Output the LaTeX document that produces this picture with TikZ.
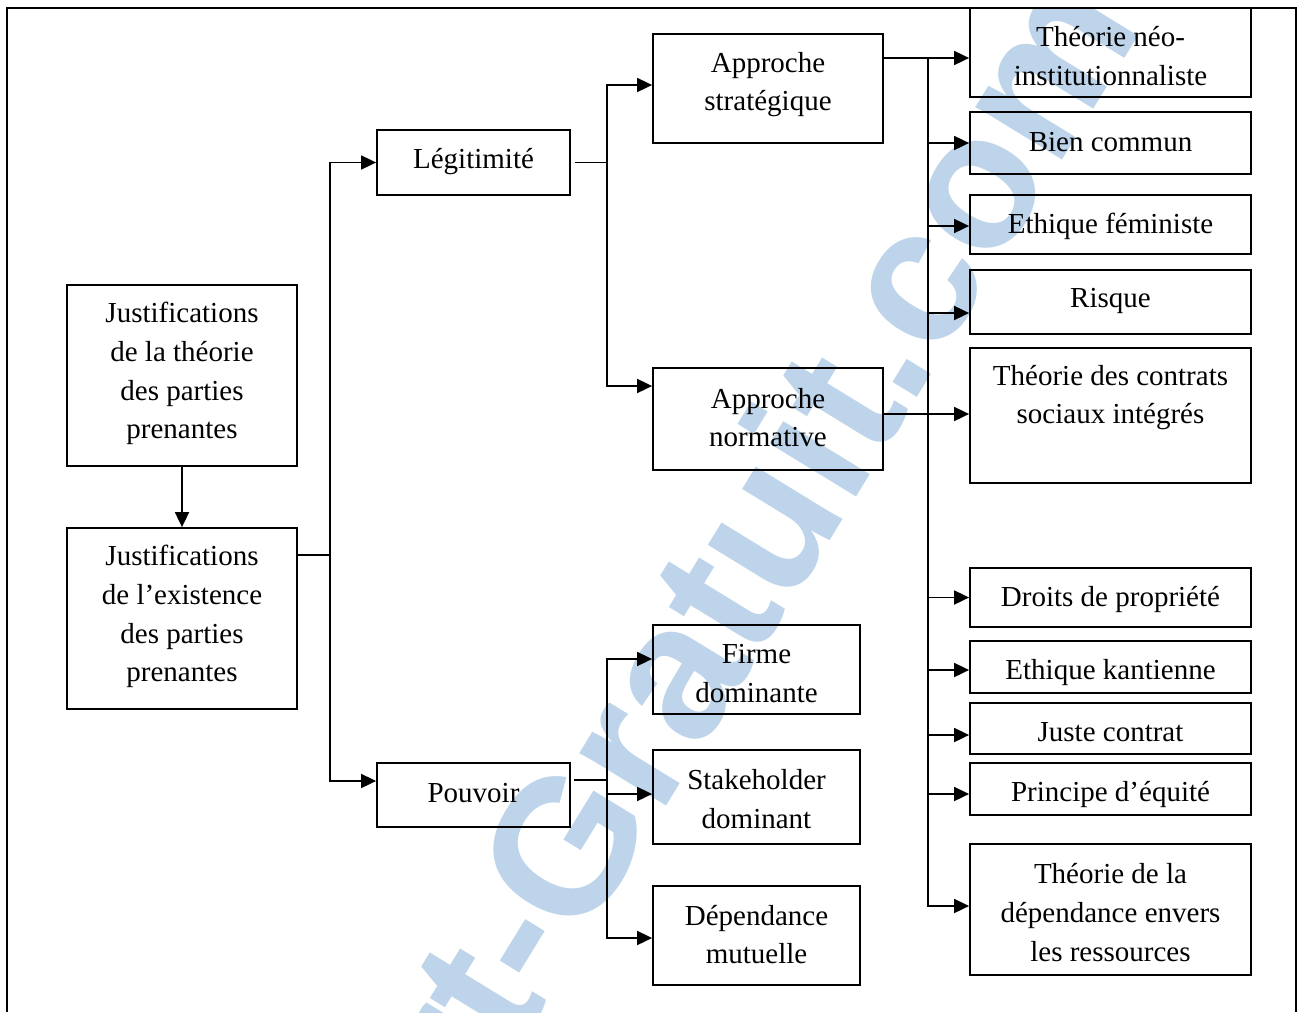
\documentclass[tikz,border=0pt]{standalone}
\usepackage{fontspec}
\setmainfont{Liberation Serif}
\newfontfamily\wmfont{Liberation Sans}
\usetikzlibrary{arrows.meta}
\definecolor{wmblue}{RGB}{189,212,234}
\begin{document}
\begin{tikzpicture}[x=1pt,y=-1pt,
  box/.style={draw, line width=1.8pt, inner sep=0pt},
  txt/.style={align=center, inner sep=0pt, font=\fontsize{29}{38.8}\selectfont},
  ln/.style={line width=1.8pt},
  arr/.style={line width=1.8pt, -{Triangle[length=15pt,width=14pt]}},
  wm/.style={text=wmblue, inner sep=0pt, font=\wmfont\bfseries\fontsize{192}{192}\selectfont}]
\useasboundingbox (0,0) rectangle (1297,1012);
% watermark
\begin{scope}
\clip (7,8) rectangle (1296,1012);
\node[wm, anchor=base east, rotate=58.5] (wmark) at (1145,26) {Rapport-Gratuit.com};
\end{scope}
% frame
\draw[line width=2pt] (7,1012) -- (7,8) -- (1296,8) -- (1296,1012);
% boxes
\node[box, minimum width=230pt, minimum height=181pt] (j1) at (182,375.5) {};
\node[box, minimum width=230pt, minimum height=181pt] (j2) at (182,618.5) {};
\node[box, minimum width=193pt, minimum height=65pt] (leg) at (473.5,162.5) {};
\node[box, minimum width=193pt, minimum height=64pt] (pou) at (473.5,795) {};
\node[box, minimum width=230pt, minimum height=109pt] (as) at (768,88.5) {};
\node[box, minimum width=230pt, minimum height=102pt] (an) at (768,419) {};
\node[box, minimum width=207pt, minimum height=89pt] (fd) at (756.5,669.5) {};
\node[box, minimum width=207pt, minimum height=94pt] (sd) at (756.5,797) {};
\node[box, minimum width=207pt, minimum height=99pt] (dm) at (756.5,935.5) {};
\node[box, minimum width=281pt, minimum height=89pt] (neo) at (1110.5,52.5) {};
\node[box, minimum width=281pt, minimum height=62pt] (bc) at (1110.5,143) {};
\node[box, minimum width=281pt, minimum height=59pt] (ef) at (1110.5,224.5) {};
\node[box, minimum width=281pt, minimum height=64pt] (ri) at (1110.5,302) {};
\node[box, minimum width=281pt, minimum height=135pt] (ctr) at (1110.5,415.5) {};
\node[box, minimum width=281pt, minimum height=59pt] (dp) at (1110.5,597.5) {};
\node[box, minimum width=281pt, minimum height=52pt] (ek) at (1110.5,667) {};
\node[box, minimum width=281pt, minimum height=51pt] (jc) at (1110.5,728.5) {};
\node[box, minimum width=281pt, minimum height=52pt] (pe) at (1110.5,789) {};
\node[box, minimum width=281pt, minimum height=131pt] (td) at (1110.5,909.5) {};
% texts
\node[txt] (j1t) at (182,373.5) {Justifications\\de la théorie\\des parties\\prenantes};
\node[txt] (j2t) at (182,616.5) {Justifications\\de l’existence\\des parties\\prenantes};
\node[txt] (legt) at (473.5,161.5) {Légitimité};
\node[txt] (pout) at (473.5,793) {Pouvoir};
\node[txt] (ast) at (768,84.5) {Approche\\stratégique};
\node[txt] (ant) at (768,417.5) {Approche\\normative};
\node[txt] (fdt) at (756.5,673.5) {Firme\\dominante};
\node[txt] (sdt) at (756.5,799) {Stakeholder\\dominant};
\node[txt] (dmt) at (756.5,934.5) {Dépendance\\mutuelle};
\node[txt] (neot) at (1110.5,56) {Théorie néo-\\institutionnaliste};
\node[txt] (bct) at (1110.5,142) {Bien commun};
\node[txt] (eft) at (1110.5,226) {Ethique féministe};
\node[txt] (rit) at (1110.5,300.5) {Risque};
\node[txt] (ctrt) at (1110.5,397.5) {Théorie des contrats\\sociaux intégrés};
\node[txt] (dpt) at (1110.5,599) {Droits de propriété};
\node[txt] (ekt) at (1110.5,672.5) {Ethique kantienne};
\node[txt] (jct) at (1110.5,732.5) {Juste contrat};
\node[txt] (pet) at (1110.5,794) {Principe d’équité};
\node[txt] (tdt) at (1110.5,912.5) {Théorie de la\\dépendance envers\\les ressources};
% connectors
\draw[arr] (j1) -- (j2);
\coordinate (s1) at (330,555);
\draw[ln] (j2.east |- s1) -- (s1);
\draw[arr] (s1) |- (leg.west);
\draw[arr] (s1) |- ([yshift=14pt]pou.west);
\coordinate (s2) at (607,162.5);
\draw[ln] ([xshift=4pt]leg.east) -- (s2);
\draw[arr] (s2) |- ([yshift=3.5pt]as.west);
\draw[arr] (s2) |- ([yshift=33pt]an.west);
\coordinate (s3) at (607,780);
\draw[line width=1.3pt] ([xshift=3pt,yshift=15pt]pou.east) -- (s3);
\draw[arr] (s3) |- ([yshift=10.5pt]fd.west);
\draw[arr] (s3) |- ([yshift=3pt]sd.west);
\draw[arr] (s3) |- ([yshift=-2.5pt]dm.west);
\coordinate (s4) at (928,58);
\draw[ln] ([yshift=30.5pt]as.east) -- (s4);
\draw[arr] (s4) -- ([yshift=-5.5pt]neo.west);
\draw[arr] (s4) |- (bc.west);
\draw[arr] (s4) |- ([yshift=-1.5pt]ef.west);
\draw[arr] (s4) |- ([yshift=-11pt]ri.west);
\draw[arr] (s4) |- (dp.west);
\draw[arr] (s4) |- ([yshift=-3pt]ek.west);
\draw[arr] (s4) |- ([yshift=-6.5pt]jc.west);
\draw[arr] (s4) |- ([yshift=-5pt]pe.west);
\draw[arr] (s4) |- ([yshift=3.5pt]td.west);
\draw[arr] ([yshift=5pt]an.east) -- ([yshift=1.5pt]ctr.west);
\end{tikzpicture}
\end{document}
